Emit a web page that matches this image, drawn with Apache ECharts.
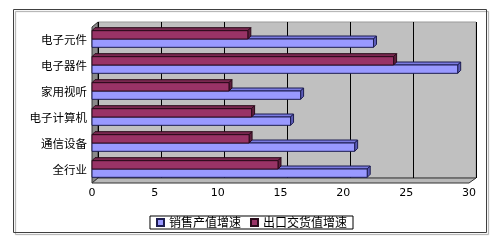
<!DOCTYPE html>
<html><head><meta charset="utf-8">
<script src="https://cdn.jsdelivr.net/npm/echarts@6/dist/echarts.min.js"></script>
<style>html,body{margin:0;padding:0;background:#fff}#c{width:503px;height:240px}</style>
</head><body><div id="c"></div>
<script>
var categories = ['电子元件','电子器件','家用视听','电子计算机','通信设备','全行业'];
var salesGrowth = [22.4, 29.1, 16.6, 15.8, 20.9, 21.9];
var exportGrowth = [12.4, 24.0, 10.9, 12.7, 12.5, 14.8];
var xTicks = [0, 5, 10, 15, 20, 25, 30];
var seriesNames = ['销售产值增速', '出口交货值增速'];

var FONT = '"Noto Sans CJK SC", "DejaVu Sans", sans-serif';
var chart = echarts.init(document.getElementById('c'), null, {renderer: 'canvas'});

function makeRender(kind) {
  var front = kind === 0 ? '#9999FF' : '#993366';
  var top = kind === 0 ? '#7b7be0' : '#7a2850';
  var side = kind === 0 ? '#5c5cb8' : '#5e1f3e';
  var edge = kind === 0 ? '#1c1c50' : '#2a0a1a';
  return function (params, api) {
    var v = api.value(0), idx = api.value(1);
    var p0 = api.coord([0, idx]);
    var p1 = api.coord([v, idx]);
    var band = api.size([0, 1])[1];
    var h = band * 0.32;
    var c = p0[1] - 1;
    var y = kind === 0 ? c : c - h;
    var x0 = p0[0], x1 = p1[0];
    var d = 3;
    return {
      type: 'group',
      children: [
        {type: 'polygon', shape: {points: [[x0, y], [x0 + d, y - d], [x1 + d, y - d], [x1, y]]},
         style: {fill: top, stroke: edge, lineWidth: 1}},
        {type: 'polygon', shape: {points: [[x1, y], [x1 + d, y - d], [x1 + d, y + h - d], [x1, y + h]]},
         style: {fill: side, stroke: edge, lineWidth: 1}},
        {type: 'rect', shape: {x: x0, y: y, width: x1 - x0, height: h},
         style: {fill: front, stroke: edge, lineWidth: 1}}
      ]
    };
  };
}

function toData(arr) { return arr.map(function (v, i) { return [v, i]; }); }

chart.setOption({
  animation: false,
  textStyle: {fontFamily: FONT},
  graphic: [
    {type: 'rect', shape: {x: 13.5, y: 9.5, width: 473, height: 223}, style: {fill: 'none', stroke: '#404040', lineWidth: 1, shadowColor: 'rgba(0,0,0,0.35)', shadowOffsetX: 2, shadowOffsetY: 2, shadowBlur: 1}, z: -10},
    {type: 'polygon', shape: {points: [[92, 27], [98, 22], [98, 178], [92, 183]]}, style: {fill: '#8a8a8a', stroke: '#333', lineWidth: 1}, z: -5},
    {type: 'polygon', shape: {points: [[92, 183], [98, 178], [476, 178], [469, 183]]}, style: {fill: '#b8b8b8', stroke: '#333', lineWidth: 1}, z: -5}
  ],
  grid: [
    {left: 92, right: 34, top: 27, bottom: 57, show: false},
    {left: 98, right: 27, top: 22, bottom: 62, show: true, backgroundColor: '#C0C0C0', borderColor: '#999', borderWidth: 1, z: -6}
  ],
  legend: {
    data: seriesNames,
    bottom: 11, left: 'center',
    itemWidth: 7, itemHeight: 7, itemGap: 9,
    borderColor: '#000', borderWidth: 1, padding: [0, 6],
    textStyle: {fontSize: 12, color: '#000', fontFamily: FONT, lineHeight: 13},
    icon: 'rect'
  },
  xAxis: [
    {gridIndex: 0, type: 'value', min: 0, max: 30, interval: 5,
     axisLine: {show: false}, axisTick: {show: false}, splitLine: {show: false},
     axisLabel: {fontSize: 11, color: '#000', margin: 5, fontFamily: '"DejaVu Sans", sans-serif',
       formatter: function (v) { return xTicks.indexOf(v) >= 0 ? String(v) : ''; }}},
    {gridIndex: 1, type: 'value', min: 0, max: 30, interval: 5,
     axisLine: {show: false}, axisTick: {show: false}, axisLabel: {show: false},
     splitLine: {show: true, lineStyle: {color: '#000', width: 1}}}
  ],
  yAxis: [
    {gridIndex: 0, type: 'category', data: categories, inverse: true,
     axisLine: {show: false}, axisTick: {show: false}, splitLine: {show: false},
     axisLabel: {fontSize: 11.5, color: '#000', margin: 5, fontFamily: FONT}},
    {gridIndex: 1, type: 'category', data: categories, inverse: true, show: false}
  ],
  series: [
    {name: seriesNames[0], type: 'custom', xAxisIndex: 0, yAxisIndex: 0,
     itemStyle: {color: '#9999FF', borderColor: '#1c1c50', borderWidth: 1},
     encode: {x: 0, y: 1}, data: toData(salesGrowth), renderItem: makeRender(0), z: 2},
    {name: seriesNames[1], type: 'custom', xAxisIndex: 0, yAxisIndex: 0,
     itemStyle: {color: '#993366', borderColor: '#2a0a1a', borderWidth: 1},
     encode: {x: 0, y: 1}, data: toData(exportGrowth), renderItem: makeRender(1), z: 3}
  ]
});
</script></body></html>
